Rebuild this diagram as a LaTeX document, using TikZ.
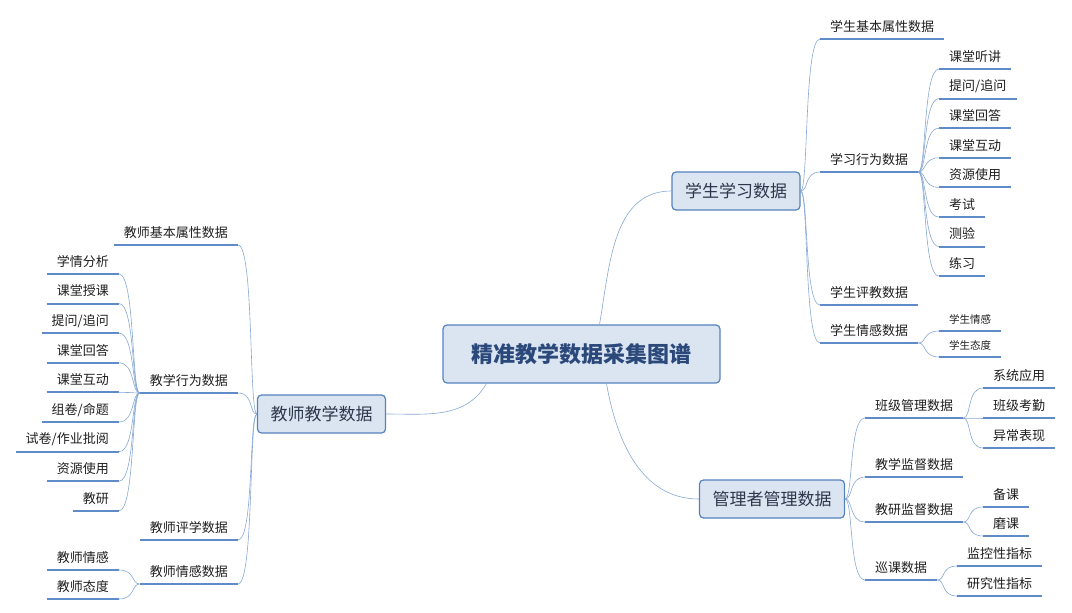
\documentclass[tikz,border=0pt]{standalone}
\usepackage{fontspec}
\setmainfont{Noto Sans CJK SC}
\definecolor{boxfill}{RGB}{219,229,241}
\definecolor{boxline}{RGB}{84,130,190}
\definecolor{roottext}{RGB}{42,72,122}
\definecolor{hubtext}{RGB}{45,55,75}
\definecolor{leaftext}{RGB}{30,30,30}
\definecolor{ulinecol}{RGB}{95,140,200}
\definecolor{branchcol}{RGB}{135,168,212}
\tikzset{
  hub/.style={draw=boxline, fill=boxfill, line width=1.2pt, rounded corners=4pt,
    text=hubtext, font=\fontsize{17}{17}\selectfont, minimum height=38pt, inner xsep=13pt},
  root/.style={hub, text=roottext, font=\fontsize{22}{22}\selectfont\bfseries,
    minimum height=58pt, minimum width=277pt},
  lbl/.style={font=\fontsize{13}{13}\selectfont, text=leaftext, inner xsep=10pt, inner ysep=5pt,
    text height=10.5pt, text depth=2.5pt,
    append after command={(\tikzlastnode.south west) edge[uline] (\tikzlastnode.south east)}},
  small/.style={lbl, font=\fontsize{10.5}{10.5}\selectfont, text height=8.5pt, text depth=2pt},
  uline/.style={draw=ulinecol, line width=2pt},
  branch/.style={draw=branchcol, line width=0.6pt},
  rb/.style={branch, out=0, in=180, out distance=8pt, in distance=16pt},
  lb/.style={branch, out=180, in=0, out distance=8pt, in distance=16pt}
}
\begin{document}
\begin{tikzpicture}[x=1pt, y=-1pt]
  \useasboundingbox (0,0) rectangle (1072,613);
  % centre and the three hubs
  \node[root] (root) at (581.5,354) {精准教学数据采集图谱};
  \node[hub] (stu) at (736,191) {学生学习数据};
  \node[hub] (tea) at (321.5,414) {教师教学数据};
  \node[hub] (mgr) at (772,499) {管理者管理数据};
  \draw[branch] ([xshift=18pt]root.north) to[out=80, in=180] (stu.west);
  \draw[branch] ([xshift=44pt]root.south west) to[out=240, in=0] (tea.east);
  \draw[branch] ([xshift=25pt]root.south) to[out=-80, in=180] (mgr.west);
  % students
  \node[lbl, anchor=south west] (s1) at (820,39) {学生基本属性数据};
  \node[lbl, anchor=south west] (s2) at (820,172) {学习行为数据};
  \node[lbl, anchor=south west] (s3) at (820,305) {学生评教数据};
  \node[lbl, anchor=south west] (s4) at (820,343) {学生情感数据};
  \foreach \n in {s1,s2,s3,s4} \draw[rb] (stu.east) to (\n.south west);
  \foreach \t [count=\i] in {课堂听讲,提问/追问,课堂回答,课堂互动,资源使用,考试,测验,练习} {
    \node[lbl, anchor=south west] (s2\i) at (939,{69+29.6*(\i-1)}) {\t};
    \draw[rb] (s2.south east) to (s2\i.south west);
  }
  \node[small, anchor=south west] (s41) at (939,331) {学生情感};
  \node[small, anchor=south west] (s42) at (939,357) {学生态度};
  \foreach \n in {s41,s42} \draw[rb] (s4.south east) to (\n.south west);
  % teachers
  \node[lbl, anchor=south east] (t1) at (238,245) {教师基本属性数据};
  \node[lbl, anchor=south east] (t2) at (238,393) {教学行为数据};
  \node[lbl, anchor=south east] (t3) at (238,540) {教师评学数据};
  \node[lbl, anchor=south east] (t4) at (238,584) {教师情感数据};
  \foreach \n in {t1,t2,t3,t4} \draw[lb] (tea.west) to (\n.south east);
  \foreach \t [count=\i] in {学情分析,课堂授课,提问/追问,课堂回答,课堂互动,组卷/命题,试卷/作业批阅,资源使用,教研} {
    \node[lbl, anchor=south east] (t2\i) at (119,{274+29.6*(\i-1)}) {\t};
    \draw[lb] (t2.south west) to (t2\i.south east);
  }
  \node[lbl, anchor=south east] (t41) at (119,570) {教师情感};
  \node[lbl, anchor=south east] (t42) at (119,599) {教师态度};
  \foreach \n in {t41,t42} \draw[lb] (t4.south west) to (\n.south east);
  % managers
  \node[lbl, anchor=south west] (m1) at (865,418) {班级管理数据};
  \node[lbl, anchor=south west] (m2) at (865,477) {教学监督数据};
  \node[lbl, anchor=south west] (m3) at (865,522) {教研监督数据};
  \node[lbl, anchor=south west] (m4) at (865,580) {巡课数据};
  \foreach \n in {m1,m2,m3,m4} \draw[rb] (mgr.east) to (\n.south west);
  \foreach \t [count=\i] in {系统应用,班级考勤,异常表现} {
    \node[lbl, anchor=south west] (m1\i) at (983,{388+30*(\i-1)}) {\t};
    \draw[rb] (m1.south east) to (m1\i.south west);
  }
  \node[lbl, anchor=south west] (m31) at (983,507) {备课};
  \node[lbl, anchor=south west] (m32) at (983,536) {磨课};
  \foreach \n in {m31,m32} \draw[rb] (m3.south east) to (\n.south west);
  \node[lbl, anchor=south west] (m41) at (957,566) {监控性指标};
  \node[lbl, anchor=south west] (m42) at (957,596) {研究性指标};
  \foreach \n in {m41,m42} \draw[rb] (m4.south east) to (\n.south west);
\end{tikzpicture}
\end{document}
